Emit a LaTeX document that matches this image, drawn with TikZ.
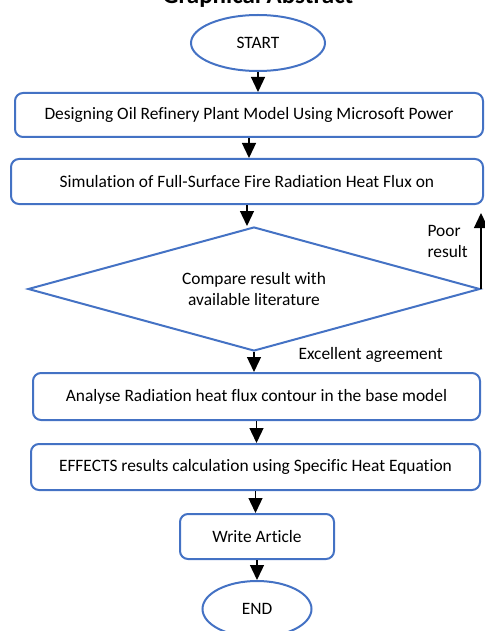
\documentclass[tikz,border=0pt]{standalone}
\usepackage{fontspec}
\setmainfont{Carlito}[Ligatures=NoCommon]
\usepackage{tikz}
\usetikzlibrary{arrows.meta,positioning,shapes.geometric}
\definecolor{OfficeBlue}{RGB}{68,114,196}
\tikzstyle{every step} = []
\tikzstyle{link} = [-{Triangle[width=14pt,length=15pt]}, draw, black, line width=1.3pt]
\tikzstyle{process} = [rectangle, rounded corners=8pt, draw=OfficeBlue, line width=2pt,
minimum height=45pt, font=\fontsize{17.4}{21}\selectfont,
every step]
\tikzstyle{terminal} = [ellipse, draw=OfficeBlue, line width=2pt,
minimum height=56pt, font=\fontsize{17.4}{21}\selectfont,
every step]
\tikzstyle{decision} = [diamond, aspect=3.6, draw=OfficeBlue, line width=2pt, align=center,
font=\fontsize{17.4}{21}\selectfont,
every step]
\tikzstyle{remark} = [align=left, font=\fontsize{17.4}{21}\selectfont]

\begin{document}
\begin{tikzpicture}[x=1pt, y=-1pt]
	\useasboundingbox (0,0) rectangle (484,631);
	\node[anchor=base, font=\fontsize{25}{28}\bfseries] (title) at (258,4) {Graphical Abstract};

	\node[terminal, minimum width=134pt] (start) at (258,43) {START};
	\node[process, minimum width=468pt, minimum height=44pt] (design) at (249,115)
		{Designing Oil Refinery Plant Model Using Microsoft Power};
	\node[process, minimum width=472pt] (simul) at (247,181.5)
		{Simulation of Full-Surface Fire Radiation Heat Flux on};
	\node[decision, minimum width=452pt, minimum height=124pt] (compare) at (254,289)
		{Compare result with\\available literature};
	\node[process, minimum width=447pt, minimum height=47pt] (analyse) at (256.5,396.5)
		{Analyse Radiation heat flux contour in the base model};
	\node[process, minimum width=449pt, minimum height=46pt] (effects) at (255.5,467)
		{EFFECTS results calculation using Specific Heat Equation};
	\node[process, minimum width=154pt] (write) at (257,536.5) {Write Article};
	\node[terminal, minimum width=109pt] (end) at (257,609) {END};

	\draw[link] (start.south) -- (start.south |- design.north);
	\draw[link] (design.south) -- (design.south |- simul.north);
	\draw[link] (simul.south) -- (simul.south |- compare.north);
	\draw[link] (compare.south) -- (compare.south |- analyse.north);
	\draw[link] (analyse.south) -- (analyse.south |- effects.north);
	\draw[link] (effects.south) -- (effects.south |- write.north);
	\draw[link] (write.south) -- (write.south |- end.north);
	%\draw[link] (compare.east) -| (simul.east);
	\draw[link, shorten >=8pt] (compare.east) -- (compare.east |- simul.south);

	\node[remark, anchor=west] (poor) at (424,241) {Poor\\result};
	\node[remark, anchor=west] (excellent) at (295,355) {Excellent agreement};
\end{tikzpicture}
\end{document}
